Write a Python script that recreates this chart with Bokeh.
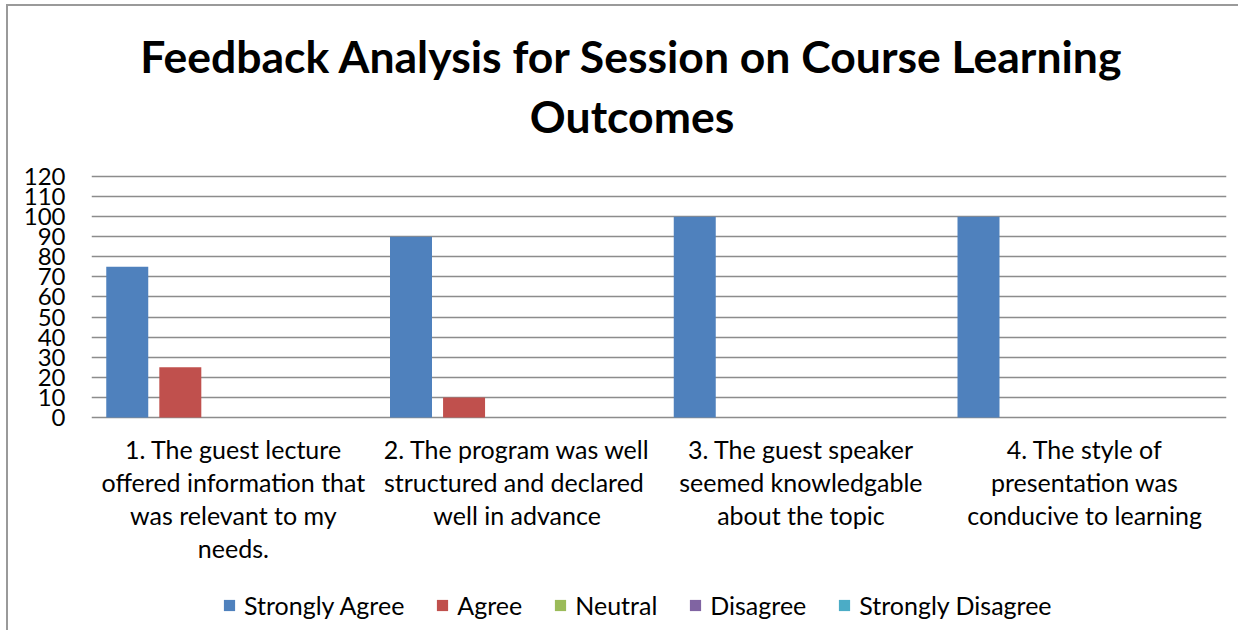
from bokeh.plotting import figure
from bokeh.models import FactorRange, Range1d, FixedTicker, Legend, LegendItem, ColumnDataSource
from bokeh.core.properties import value
from bokeh.transform import dodge
from bokeh.embed import file_html
from bokeh.resources import INLINE

title_lines = ["Feedback Analysis for Session on Course Learning", "Outcomes"]
categories = [
    "1. The guest lecture\noffered information that\nwas relevant to my\nneeds.",
    "2. The program was well\nstructured  and declared\nwell in advance",
    "3. The guest speaker\nseemed knowledgable\nabout the topic",
    "4. The style of\npresentation was\nconducive to learning",
]
series_names = ["Strongly Agree", "Agree", "Neutral", "Disagree", "Strongly Disagree"]
strongly_agree = [75, 90, 100, 100]
agree = [25, 10, 0, 0]
neutral = [0, 0, 0, 0]
disagree = [0, 0, 0, 0]
strongly_disagree = [0, 0, 0, 0]
y_ticks = list(range(0, 121, 10))
colors = ["#4F81BD", "#C0504D", "#9BBB59", "#8064A2", "#4BACC6"]

FONT = "Lato"
# layout constants (value-axis units): room above 120 for the title, below 0 for labels/legend
Y_TOP = 204.65
Y_BOTTOM = -107.06
LABEL_Y = -8
TITLE_Y = [180.3, 150.6]
TITLE_X = 1.905

src = ColumnDataSource(dict(cat=categories, sa=strongly_agree, ag=agree, ne=neutral,
                            di=disagree, sd=strongly_disagree))

p = figure(width=1232, height=626, output_backend="svg", toolbar_location=None,
           x_range=FactorRange(*categories, range_padding=0), y_range=Range1d(Y_BOTTOM, Y_TOP),
           min_border_left=83, min_border_right=14, min_border_top=0, min_border_bottom=0)
p.styles = {"border-left": "2px solid #9a9a9a", "border-top": "2px solid #9a9a9a",
            "margin-left": "6px", "margin-top": "4px"}
p.outline_line_color = None
p.background_fill_color = "white"
p.border_fill_color = "white"

cols = ["sa", "ag", "ne", "di", "sd"]
items = []
for i, (c, name, col) in enumerate(zip(cols, series_names, colors)):
    r = p.vbar(x=dodge("cat", (i - 2) * 0.187, range=p.x_range), top=c, bottom=0, width=0.148,
               source=src, fill_color=col, line_color=None)
    items.append(LegendItem(label=name, renderers=[r]))

p.text(x="cat", y=LABEL_Y, text="cat", source=src, text_align="center", text_baseline="top",
       text_font=value(FONT), text_font_size="25px", text_line_height=1.1, text_color="black")

p.text(x=[TITLE_X, TITLE_X], y=TITLE_Y, text=title_lines, text_align="center",
       text_baseline="alphabetic", text_font=value(FONT), text_font_size="44.5px",
       text_font_style="bold", text_color="black")

p.ygrid.ticker = FixedTicker(ticks=y_ticks)
p.yaxis.ticker = FixedTicker(ticks=y_ticks)
p.ygrid.grid_line_color = "#8c8c8c"
p.ygrid.grid_line_width = 1.5
p.xgrid.grid_line_color = None
p.xaxis.visible = False

p.yaxis.axis_line_color = None
p.yaxis.major_tick_line_color = None
p.yaxis.minor_tick_line_color = None
p.yaxis.major_label_standoff = 20
p.yaxis.major_label_text_font = FONT
p.yaxis.major_label_text_font_size = "24px"
p.yaxis.major_label_text_color = "black"

legend = Legend(items=items, orientation="horizontal", location=(131, 12),
                label_text_font=FONT, label_text_font_size="25px", label_text_color="black",
                glyph_width=14, glyph_height=14, label_standoff=8, spacing=31,
                border_line_color=None, background_fill_alpha=0, margin=0, padding=0)
p.add_layout(legend, "center")

open("out.html", "w").write(file_html(p, INLINE))
